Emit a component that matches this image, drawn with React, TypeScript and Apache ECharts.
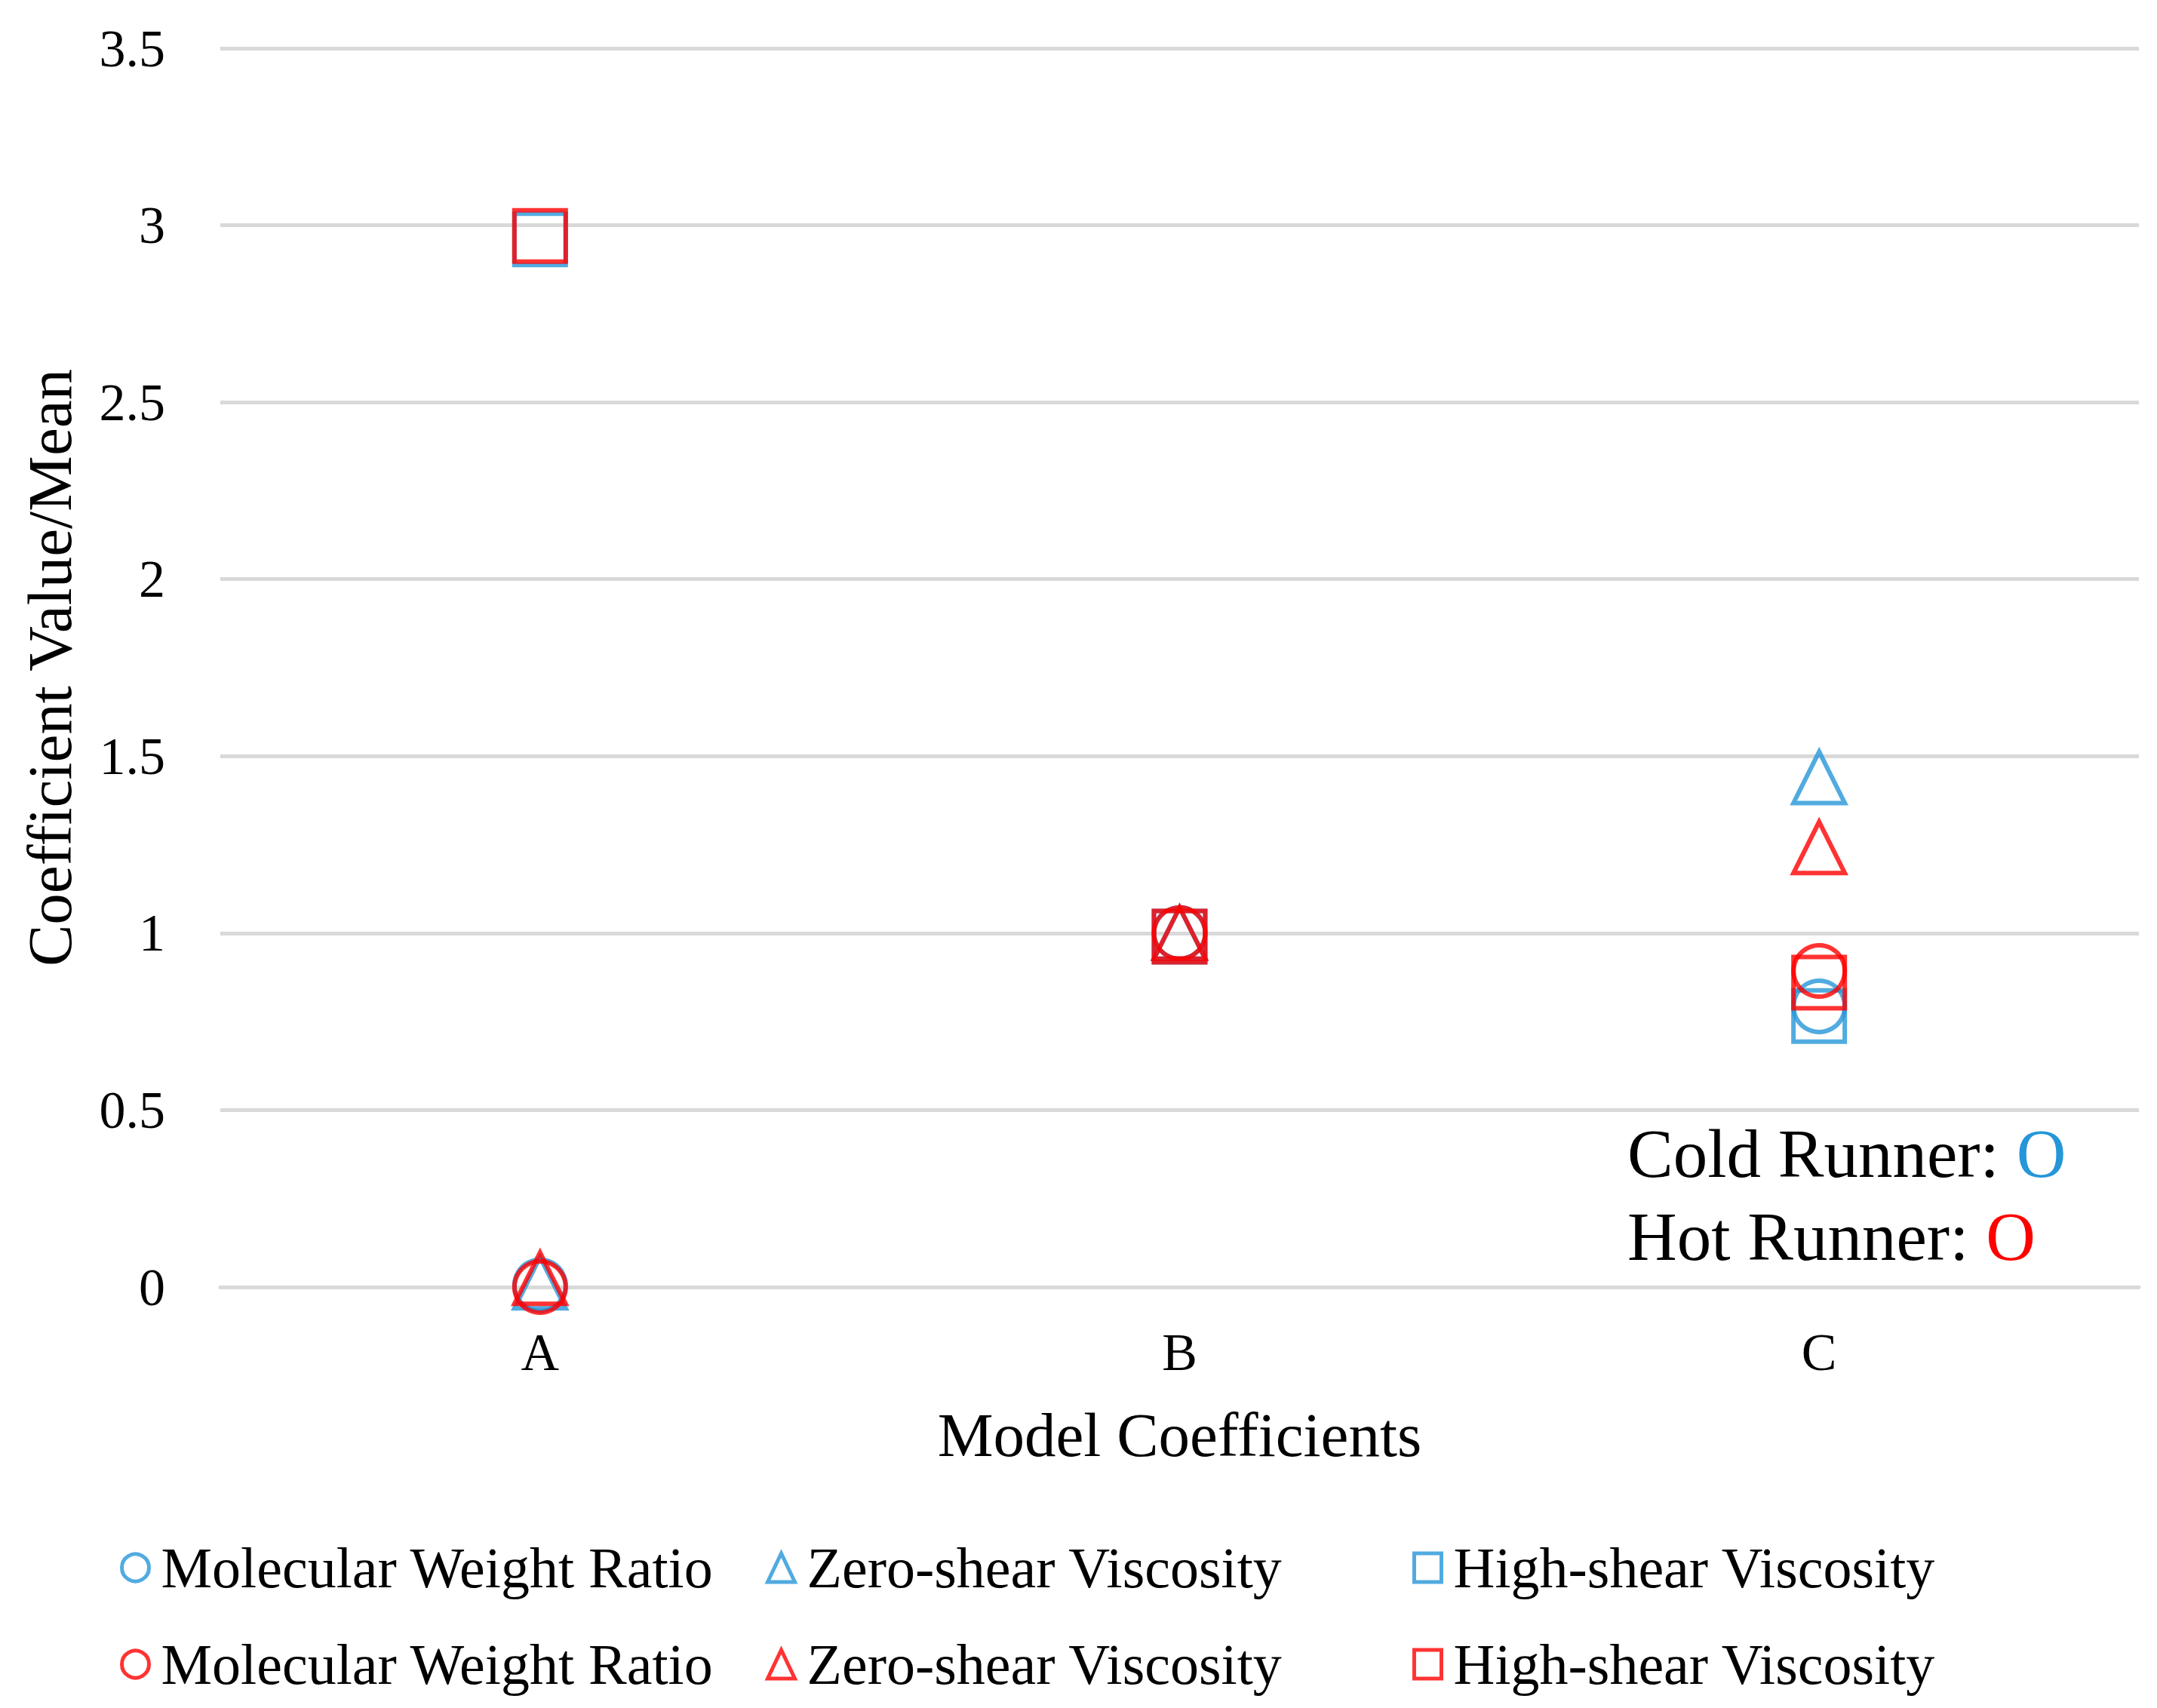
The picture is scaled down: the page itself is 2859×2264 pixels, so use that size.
import React, { useEffect, useRef } from "react";
import * as echarts from "echarts";

const categories = ["A", "B", "C"];
const seriesNames = [
  "Cold Molecular Weight Ratio",
  "Cold Zero-shear Viscosity",
  "Cold High-shear Viscosity",
  "Hot Molecular Weight Ratio",
  "Hot Zero-shear Viscosity",
  "Hot High-shear Viscosity",
];
const coldMWR = [0.005, 1.0, 0.793];
const coldZSV = [0.012, 1.0, 1.44];
const coldHSV = [2.96, 0.99, 0.766];
const hotMWR = [0.0, 1.0, 0.893];
const hotZSV = [0.025, 1.0, 1.242];
const hotHSV = [2.97, 0.99, 0.86];
const yMin = 0;
const yMax = 3.5;
const yStep = 0.5;

const BLUE = "#2596D8";
const RED = "#FF0000";
const FONT = "'Liberation Serif', 'Times New Roman', serif";

export default function App() {
  const ref = useRef<HTMLDivElement>(null);
  useEffect(() => {
    const chart = echarts.init(ref.current!, null, { renderer: "svg" });
    const values = [coldMWR, coldZSV, coldHSV, hotMWR, hotZSV, hotHSV];
    const symbols = ["circle", "triangle", "rect", "circle", "triangle", "rect"];
    const colors = [BLUE, BLUE, BLUE, RED, RED, RED];
    const series = values.map((v, i) => ({
      name: seriesNames[i],
      type: "scatter",
      symbol: symbols[i],
      symbolSize: 68,
      data: v,
      itemStyle: { color: "rgba(0,0,0,0)", borderColor: colors[i], borderWidth: 6 },
      z: 2 + i,
    }));
    const legendLefts = [154, 1010, 1867];
    const legendTops = [2033, 2161];
    const legends = seriesNames.map((n, i) => ({
      data: [n],
      left: legendLefts[i % 3],
      top: legendTops[Math.floor(i / 3)],
      orient: "horizontal",
      itemWidth: 36,
      itemHeight: 38,
      selectedMode: false,
      formatter: (name: string) => name.replace(/^(Cold|Hot) /, ""),
      itemStyle: { borderWidth: 5 },
      textStyle: {
        fontFamily: FONT,
        fontSize: 76,
        color: "#000",
        lineHeight: 80,
        padding: [0, 0, 0, 11],
      },
    }));
    chart.setOption({
      animation: false,
      backgroundColor: "#fff",
      grid: { left: 292, right: 24, top: 64, bottom: 558, containLabel: false },
      xAxis: {
        type: "category",
        data: categories,
        boundaryGap: true,
        name: "Model Coefficients",
        nameLocation: "middle",
        nameGap: 154,
        nameTextStyle: { fontFamily: FONT, fontSize: 83, color: "#000" },
        axisLine: { show: true, lineStyle: { color: "#D9D9D9", width: 5 } },
        axisTick: { show: false },
        axisLabel: { fontFamily: FONT, fontSize: 70, color: "#000", margin: 51 },
      },
      yAxis: {
        type: "value",
        min: yMin,
        max: yMax,
        interval: yStep,
        name: "Coefficient Value/Mean",
        nameLocation: "middle",
        nameGap: 185,
        nameTextStyle: { fontFamily: FONT, fontSize: 83, color: "#000" },
        axisLine: { show: false },
        axisTick: { show: false },
        splitLine: { lineStyle: { color: "#D9D9D9", width: 5 } },
        axisLabel: { fontFamily: FONT, fontSize: 70, color: "#000", margin: 73 },
      },
      legend: legends,
      graphic: [
        {
          type: "text",
          left: 2157,
          top: 1484,
          style: {
            text: "{k|Cold Runner: }{c|O}",
            rich: {
              k: { fontFamily: FONT, fontSize: 91, fill: "#000" },
              c: { fontFamily: FONT, fontSize: 91, fill: BLUE },
            },
          },
        },
        {
          type: "text",
          left: 2157,
          top: 1594,
          style: {
            text: "{k|Hot Runner: }{c|O}",
            rich: {
              k: { fontFamily: FONT, fontSize: 91, fill: "#000" },
              c: { fontFamily: FONT, fontSize: 91, fill: RED },
            },
          },
        },
      ],
      series,
    });
    return () => chart.dispose();
  }, []);
  return (
    <div
      ref={ref}
      style={{ position: "absolute", left: 0, top: 0, width: 2859, height: 2264 }}
    />
  );
}
